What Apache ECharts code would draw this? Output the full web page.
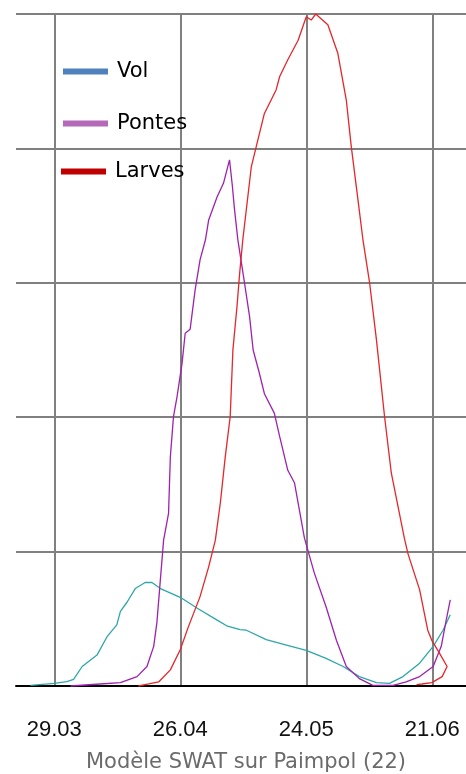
<!DOCTYPE html>
<html>
<head>
<meta charset="utf-8">
<script src="https://cdn.jsdelivr.net/npm/echarts@6/dist/echarts.min.js"></script>
<style>html,body{margin:0;padding:0;background:#fff}#c{width:466px;height:774px}</style>
</head>
<body>
<div id="c"></div>
<script>
// x values = day of year (29.03 = 88, 26.04 = 116, 24.05 = 144, 21.06 = 172)
const tickDays = [88, 116, 144, 172];
const tickLabels = ['29.03', '26.04', '24.05', '21.06'];

const volDays = [82.7, 88, 90.8, 92.3, 94.2, 97.5, 99.7, 101.9, 102.7, 104.2, 106, 108.2, 109.7, 111.6, 116, 119.7, 124.2, 126.5, 129.3, 130.7, 135.1, 139.6, 144, 148.4, 152.2, 155.8, 159.6, 162.5, 165.5, 169.2, 172.2, 174.4, 176];
const volValues = [0.1, 0.4, 0.65, 1.0, 2.9, 4.6, 7.3, 9.1, 11.1, 12.5, 14.5, 15.4, 15.4, 14.5, 13.2, 11.6, 9.8, 8.9, 8.4, 8.3, 6.9, 6.1, 5.3, 4.1, 2.9, 1.4, 0.5, 0.4, 1.4, 3.4, 5.9, 8.3, 10.6];

const pontesDays = [91.6, 98.2, 102.7, 106.4, 108.6, 110.1, 110.8, 111.4, 112.3, 113.4, 113.8, 114.5, 115.3, 116.4, 117.1, 118.2, 119.3, 120.4, 121.6, 122.3, 124.2, 125.6, 126.95, 127.6, 128.0, 128.8, 130.3, 131.4, 132.2, 133.6, 134.7, 136.9, 138.1, 139.9, 141.4, 143.6, 145.8, 148.4, 150.7, 152.9, 155.8, 158.8, 163.3, 166.2, 169.2, 172.2, 174, 175.1, 176];
const pontesValues = [0, 0.3, 0.5, 1.4, 2.9, 5.9, 9.4, 14.3, 21.7, 25.7, 34.1, 40.1, 43.1, 48.0, 52.5, 53.1, 58.9, 63.4, 66.4, 69.3, 72.8, 74.8, 78.3, 74.3, 71.3, 66.4, 59.9, 55.0, 50.0, 46.5, 43.5, 40.6, 37.1, 32.1, 30.2, 22.0, 16.8, 11.8, 6.8, 2.9, 1.1, 0.1, 0.1, 0.6, 1.4, 2.9, 5.9, 9.8, 12.8];

const larvesDays = [106.7, 109, 111.2, 113.8, 116, 117.8, 120.4, 122.3, 123.8, 124.9, 126, 127.1, 127.7, 128.6, 129.2, 129.9, 131.8, 132.9, 134.7, 137.3, 138.1, 139.9, 142.2, 144, 145.1, 146.1, 148.8, 151, 152.9, 154, 155.5, 156.6, 158.1, 159.6, 161.4, 162.9, 164.4, 165.8, 166.6, 169.2, 171, 171.9, 173.6, 175.3, 174.2, 171.9, 169.7, 168.5];
const larvesValues = [0, 0.3, 0.6, 2.4, 5.4, 8.8, 13.3, 17.7, 21.7, 27.2, 34.1, 40.1, 50.0, 56.4, 61.4, 66.4, 77.3, 80.3, 85.2, 88.7, 90.7, 93.2, 96.1, 99.6, 99.1, 100, 98.4, 94.2, 87.2, 80.3, 72.3, 66.4, 59.9, 51.5, 40.1, 31.7, 26.7, 22.0, 19.7, 14.3, 8.3, 6.8, 4.9, 2.9, 1.4, 0.5, 0.3, 0.2];

const seriesNames = ['Vol', 'Pontes', 'Larves'];
const lineColors = ['#2ea7a7', '#9e22b0', '#e5262a'];
const legendColors = ['#4f81bd', '#b469b9', '#c00000'];

const zip = (xs, ys) => xs.map((x, i) => [x, ys[i]]);
const allData = [zip(volDays, volValues), zip(pontesDays, pontesValues), zip(larvesDays, larvesValues)];

const legendTops = [61, 113, 161];
const legendLefts = [63, 63, 61];

const chart = echarts.init(document.getElementById('c'), null, {renderer: 'canvas'});
chart.setOption({
  animation: false,
  backgroundColor: '#ffffff',
  title: {
    text: 'Modèle SWAT sur Paimpol (22)',
    left: 86, top: 752, padding: 0,
    textStyle: {fontFamily: 'DejaVu Sans', fontSize: 21, fontWeight: 'normal', color: '#6b6b6b'}
  },
  legend: seriesNames.map((n, i) => ({
    data: [{name: n, itemStyle: {color: legendColors[i], borderWidth: 0}}],
    orient: 'vertical', padding: 0,
    left: legendLefts[i], top: legendTops[i],
    icon: 'rect', itemWidth: 45, itemHeight: 6,
    textStyle: {fontFamily: 'DejaVu Sans', fontSize: 21, color: '#000', padding: [0, 0, 0, 4]},
    selectedMode: false
  })),
  grid: {left: 16, right: 0, top: 14, bottom: 88, outerBoundsMode: 'none', containLabel: false},
  xAxis: {
    type: 'value', min: 79.5, max: 179.5,
    axisLine: {show: true, onZero: false, lineStyle: {color: '#000', width: 2}},
    axisTick: {show: false, customValues: tickDays},
    axisLabel: {
      customValues: tickDays,
      formatter: v => tickLabels[tickDays.indexOf(v)] || '',
      margin: 33,
      fontFamily: 'Liberation Sans', fontSize: 22, color: '#111'
    },
    splitLine: {show: true, lineStyle: {color: '#808080', width: 2}}
  },
  yAxis: {
    type: 'value', min: 0, max: 100, interval: 20,
    axisLine: {show: false}, axisTick: {show: false}, axisLabel: {show: false},
    splitLine: {show: true, showMinLine: false, lineStyle: {color: '#808080', width: 2}}
  },
  series: seriesNames.map((n, i) => ({
    name: n, type: 'line', data: allData[i],
    showSymbol: false, symbol: 'none',
    lineStyle: {color: lineColors[i], width: 1.3},
    itemStyle: {color: lineColors[i]},
    clip: false
  }))
});
</script>
</body>
</html>
